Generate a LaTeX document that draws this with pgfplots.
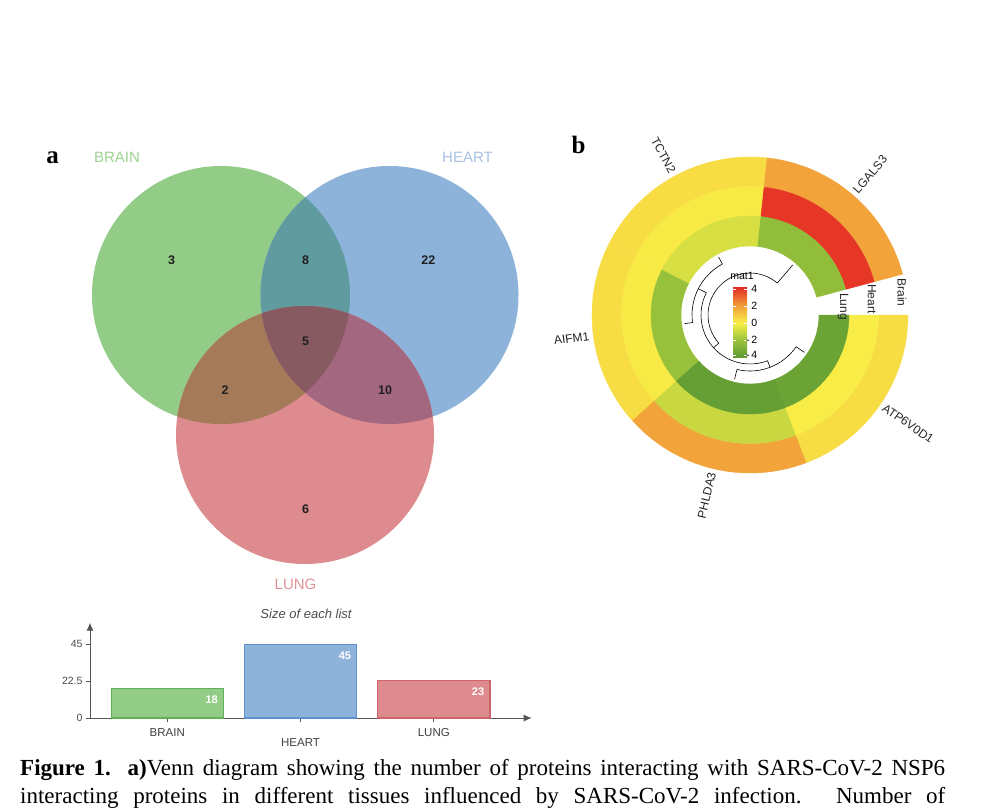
\documentclass[border=0pt]{standalone}
\usepackage{pgfplots}
\pgfplotsset{compat=1.18}
\usetikzlibrary{arrows.meta}
\usepackage{fontspec}
\setmainfont{Liberation Sans}
\newfontfamily\serifcap{Liberation Serif}
\pgfplotsset{/pgf/number format/assume math mode=true}

% Venn / bar colours
\definecolor{vGreen}{RGB}{146,204,134}
\definecolor{vBlue}{RGB}{142,179,219}
\definecolor{vRed}{RGB}{221,139,142}
\definecolor{vGB}{RGB}{96,155,160}
\definecolor{vGR}{RGB}{164,122,89}
\definecolor{vBR}{RGB}{163,104,128}
\definecolor{vGBR}{RGB}{135,90,97}
\definecolor{bGreenD}{RGB}{98,176,88}
\definecolor{bBlueD}{RGB}{96,145,205}
\definecolor{bRedD}{RGB}{205,100,105}
\definecolor{lGreen}{RGB}{158,210,146}
\definecolor{lBlue}{RGB}{168,194,228}
\definecolor{lRed}{RGB}{226,146,150}
\definecolor{axgray}{RGB}{85,85,85}

% heat-map colour scale (-4,-2,0,2,4)
\definecolor{hmA}{RGB}{95,155,50}
\definecolor{hmB}{RGB}{155,195,60}
\definecolor{hmC}{RGB}{248,238,70}
\definecolor{hmD}{RGB}{242,160,58}
\definecolor{hmE}{RGB}{228,42,36}
\newcommand\hmdef[2]{%
  \pgfmathsetmacro\hmv{max(-4,min(4,#2))}%
  \pgfmathtruncatemacro\hmseg{min(3,floor((\hmv+4)/2))}%
  \pgfmathsetmacro\hmt{((\hmv+4)/2-\hmseg)*100}%
  \ifcase\hmseg \colorlet{#1}{hmB!\hmt!hmA}\or \colorlet{#1}{hmC!\hmt!hmB}\or
  \colorlet{#1}{hmD!\hmt!hmC}\or \colorlet{#1}{hmE!\hmt!hmD}\fi}
% values: gene x tissue (Brain, Heart, Lung)
\hmdef{LGbr}{1.9}\hmdef{LGhe}{3.8}\hmdef{LGlu}{-2.3}
\hmdef{TCbr}{0.45}\hmdef{TChe}{0.1}\hmdef{TClu}{-0.7}
\hmdef{AIbr}{0.45}\hmdef{AIhe}{0.1}\hmdef{AIlu}{-2.1}
\hmdef{PHbr}{1.9}\hmdef{PHhe}{-1.0}\hmdef{PHlu}{-3.8}
\hmdef{ATbr}{0.45}\hmdef{ATe}{0.05}\hmdef{ATlu}{-3.6}

\newcommand\sector[5]{%
  \filldraw[#5, line width=0.4pt] (#1:#3pt) -- (#1:#4pt) arc[start angle=#1,end angle=#2,radius=#4pt]
    -- (#2:#3pt) arc[start angle=#2,end angle=#1,radius=#3pt] -- cycle;}

\begin{document}
\begin{tikzpicture}
\useasboundingbox (0,0) rectangle (981pt,809pt);
\fill[white] (0,0) rectangle (981pt,809pt);

\begin{axis}[at={(0pt,0pt)}, anchor=south west, scale only axis,
  width=981pt, height=809pt, xmin=0, xmax=981, ymin=0, ymax=809,
  y dir=reverse, hide axis, clip=false]

% ---------- Venn diagram ----------
\fill[vGreen] (axis cs:221,295) circle[radius=129pt];
\fill[vBlue] (axis cs:389.5,295) circle[radius=129pt];
\fill[vRed] (axis cs:305,435) circle[radius=129pt];
\begin{scope}\clip (axis cs:221,295) circle[radius=129pt];
  \fill[vGB] (axis cs:389.5,295) circle[radius=129pt];\end{scope}
\begin{scope}\clip (axis cs:221,295) circle[radius=129pt];
  \fill[vGR] (axis cs:305,435) circle[radius=129pt];\end{scope}
\begin{scope}\clip (axis cs:389.5,295) circle[radius=129pt];
  \fill[vBR] (axis cs:305,435) circle[radius=129pt];\end{scope}
\begin{scope}\clip (axis cs:221,295) circle[radius=129pt];
  \clip (axis cs:389.5,295) circle[radius=129pt];
  \fill[vGBR] (axis cs:305,435) circle[radius=129pt];\end{scope}

\begin{scope}[every node/.style={font=\bfseries\fontsize{12.5}{14}\selectfont, text=black!88}]
\node at (axis cs:171.7,260) {3};
\node at (axis cs:305.7,260) {8};
\node at (axis cs:428.3,260) {22};
\node at (axis cs:305.7,341.7) {5};
\node at (axis cs:225,390) {2};
\node at (axis cs:385,390) {10};
\node at (axis cs:305.7,509.3) {6};
\end{scope}
\node[font=\fontsize{15}{17}\selectfont, text=lGreen] at (axis cs:117,157.5) {BRAIN};
\node[font=\fontsize{15}{17}\selectfont, text=lBlue] at (axis cs:467.5,157.5) {HEART};
\node[font=\fontsize{15}{17}\selectfont, text=lRed] at (axis cs:295.5,584) {LUNG};

\node[anchor=base, font=\serifcap\bfseries\fontsize{25}{28}\selectfont] at (axis cs:52.5,163) {a};
\node[anchor=base, font=\serifcap\bfseries\fontsize{25}{28}\selectfont] at (axis cs:578.5,153) {b};

\node[font=\itshape\fontsize{13}{15}\selectfont, text=black!70] at (axis cs:306,614) {Size of each list};

% ---------- circular heat map ----------
\begin{scope}[shift={(axis cs:750,315)}]
  % LGALS3 15-84, TCTN2 84-153, AIFM1 153-222, PHLDA3 222-291, ATP6V0D1 291-360
  \sector{15}{84}{128.5}{158}{LGbr}\sector{15}{84}{99}{128.5}{LGhe}\sector{15}{84}{69}{99}{LGlu}
  \sector{84}{153}{128.5}{158}{TCbr}\sector{84}{153}{99}{128.5}{TChe}\sector{84}{153}{69}{99}{TClu}
  \sector{153}{222}{128.5}{158}{AIbr}\sector{153}{222}{99}{128.5}{AIhe}\sector{153}{222}{69}{99}{AIlu}
  \sector{222}{291}{128.5}{158}{PHbr}\sector{222}{291}{99}{128.5}{PHhe}\sector{222}{291}{69}{99}{PHlu}
  \sector{291}{360}{128.5}{158}{ATbr}\sector{291}{360}{99}{128.5}{ATe}\sector{291}{360}{69}{99}{ATlu}
  % dendrogram
  \draw[black, line width=0.6pt] (118.5:66pt) -- (118.5:58pt) arc[start angle=118.5,end angle=187.5,radius=58pt] -- (187.5:66pt);
  \draw[black, line width=0.6pt] (256.5:66pt) -- (256.5:56pt) arc[start angle=256.5,end angle=325.5,radius=56pt] -- (325.5:66pt);
  \draw[black, line width=0.6pt] (153:58pt) -- (153:49pt) arc[start angle=153,end angle=291,radius=49pt] -- (291:56pt);
  \draw[black, line width=0.6pt] (222:49pt) -- (222:42pt) arc[start angle=222,end angle=49.5,radius=42pt] -- (49.5:66pt);
  % gene labels
  \begin{scope}[every node/.style={font=\fontsize{12}{14}\selectfont, text=black!85, inner sep=1pt}]
  \node[anchor=west, rotate=49.5] at (49.5:161pt) {LGALS3};
  \node[anchor=east, rotate=-61.5] at (118.5:161pt) {TCTN2};
  \node[anchor=east, rotate=7.5] at (187.5:161pt) {AIFM1};
  \node[anchor=east, rotate=76.5] at (256.5:161pt) {PHLDA3};
  \node[anchor=west, rotate=-34.5] at (325.5:161pt) {ATP6V0D1};
  \end{scope}
\end{scope}
\begin{scope}[every node/.style={font=\fontsize{12}{14}\selectfont, text=black!85, rotate=-90, inner sep=0pt}]
\node at (axis cs:902,292.5) {Brain};
\node at (axis cs:872,299) {Heart};
\node at (axis cs:843,306.5) {Lung};
\end{scope}

% colour legend
\node[font=\fontsize{10.5}{12}\selectfont] at (axis cs:742,276) {mat1};
\shade[top color=hmE, bottom color=hmD] (axis cs:733,287) rectangle (axis cs:747,306);
\shade[top color=hmD, bottom color=hmC] (axis cs:733,306) rectangle (axis cs:747,323);
\shade[top color=hmC, bottom color=hmB] (axis cs:733,323) rectangle (axis cs:747,340);
\shade[top color=hmB, bottom color=hmA] (axis cs:733,340) rectangle (axis cs:747,357);
\foreach \yy in {289,306,323,340,355}{
  \edef\tmp{\noexpand\draw[white, line width=0.7pt] (axis cs:733,\yy) -- (axis cs:736,\yy) (axis cs:744,\yy) -- (axis cs:747,\yy);}\tmp}
\begin{scope}[every node/.style={font=\fontsize{10.5}{12}\selectfont, anchor=east, inner sep=0.5pt}]
\node at (axis cs:758,289) {4};
\node at (axis cs:758,306) {2};
\node at (axis cs:758,323) {0};
\node at (axis cs:758,340) {-\,2};
\node at (axis cs:758,355) {-\,4};
\end{scope}

% ---------- caption ----------
\node[anchor=base west, inner sep=0pt] at (axis cs:20,775.5)
  {\serifcap\fontsize{23}{27}\selectfont\makebox[925pt][s]{\textbf{Figure 1. a)}Venn diagram showing the number of proteins interacting with SARS-CoV-2 NSP6}};
\node[anchor=base west, inner sep=0pt] at (axis cs:20,803)
  {\serifcap\fontsize{23}{27}\selectfont\makebox[925pt][s]{interacting proteins in different tissues influenced by SARS-CoV-2 infection. Number of}};
\end{axis}

% ---------- bar chart: size of each list ----------
\begin{axis}[at={(90pt,91pt)}, anchor=south west, scale only axis,
  width=441.7pt, height=95.3pt,
  xmin=0.4197, xmax=3.735, ymin=0, ymax=58,
  axis lines=left, clip=false,
  axis line style={draw=axgray, line width=0.8pt, -{Latex[length=8pt,width=7pt]}},
  tick style={draw=axgray, line width=0.6pt}, tick align=outside, major tick length=4pt,
  ytick={0,22.5,45},
  yticklabel style={font=\fontsize{10.5}{12}\selectfont, text=black!70},
  xtick={1,3}, xticklabels={BRAIN,LUNG},
  extra x ticks={2}, extra x tick labels={HEART},
  extra x tick style={xticklabel style={yshift=-10.5pt}},
  xticklabel style={font=\fontsize{11.5}{13}\selectfont, text=black!75, yshift=-3pt},
  nodes near coords,
  nodes near coords style={anchor=north east, xshift=52pt, yshift=-6pt, text=white,
     font=\bfseries\fontsize{11}{12}\selectfont, inner sep=1pt},
]
\addplot[ybar, bar width=112.5pt, bar shift=0pt, fill=vGreen, draw=bGreenD, line width=1.1pt] coordinates {(1,18)};
\addplot[ybar, bar width=112.5pt, bar shift=0pt, fill=vBlue, draw=bBlueD, line width=1.1pt] coordinates {(2,45)};
\addplot[ybar, bar width=112.5pt, bar shift=0pt, fill=vRed, draw=bRedD, line width=1.1pt] coordinates {(3,23)};
\end{axis}
\end{tikzpicture}
\end{document}
